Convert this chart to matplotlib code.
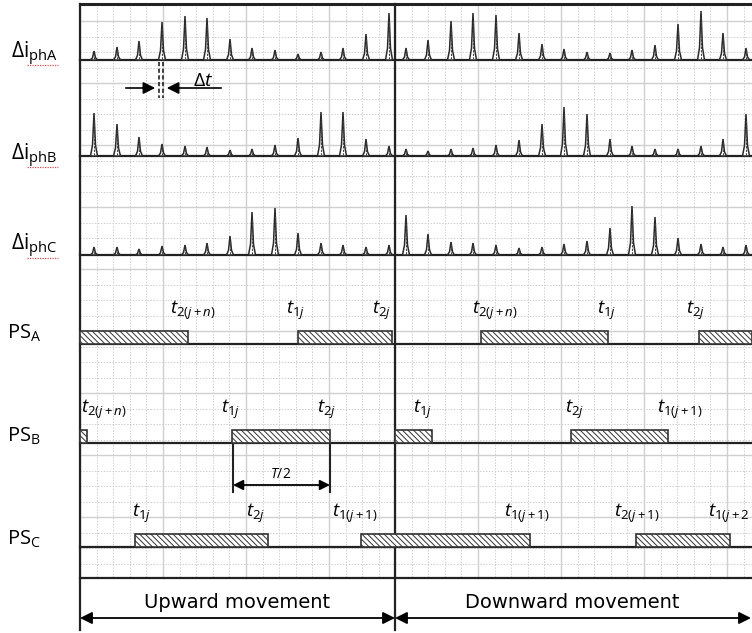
import numpy as np
import matplotlib
matplotlib.use("Agg")
import matplotlib.pyplot as plt
from matplotlib.patches import Polygon, Rectangle, FancyArrowPatch

plt.rcParams['mathtext.fontset'] = 'custom'
plt.rcParams['mathtext.rm'] = 'Open Sans'
plt.rcParams['mathtext.it'] = 'Open Sans:italic'
plt.rcParams['hatch.linewidth'] = 0.7

# everything is measured in pixels of the 752x633 picture (y grows downwards)

# spike instants, upward / downward movement
t_up = [94, 117, 139, 162, 185, 207, 230, 252, 275, 298, 321, 343, 366, 389]
t_down = [406, 428, 451, 473, 496, 519, 542, 564, 587, 610, 632, 655, 678, 701, 723, 746]

# spike amplitudes of the current increments
dA_up = [9, 13, 19, 38, 44, 42, 21, 12, 10, 6, 8, 12, 26, 47]
dA_down = [12, 20, 39, 47, 45, 27, 16, 11, 8, 7, 10, 15, 36, 49, 27, 12]
dB_up = [43, 32, 19, 12, 10, 9, 6, 7, 11, 18, 44, 44, 17, 10]
dB_down = [7, 5, 7, 8, 11, 16, 32, 49, 42, 17, 10, 7, 7, 10, 17, 42]
dC_up = [8, 8, 6, 9, 10, 12, 19, 43, 47, 22, 12, 10, 8, 10]
dC_down = [40, 21, 13, 12, 10, 7, 8, 11, 14, 27, 49, 38, 17, 11, 8, 10]

# position sensor pulses (start, end)
psA = [(80, 188), (298, 392), (481, 608), (699, 752)]
psB = [(80, 87), (232, 330), (395, 432), (571, 668)]
psC = [(135, 268), (361, 530), (636, 730)]

# instant labels (text, x)
labA = [('t_{2(j+n)}', 193), ('t_{1j}', 296), ('t_{2j}', 382),
        ('t_{2(j+n)}', 495), ('t_{1j}', 607), ('t_{2j}', 696)]
labB = [('t_{2(j+n)}', 104), ('t_{1j}', 231), ('t_{2j}', 327),
        ('t_{1j}', 423), ('t_{2j}', 575), ('t_{1(j+1)}', 680)]
labC = [('t_{1j}', 142), ('t_{2j}', 256), ('t_{1(j+1)}', 355),
        ('t_{1(j+1)}', 527), ('t_{2(j+1)}', 637)]

X0, XM, X1 = 80, 395, 752
Y0, YB = 4, 578

fig = plt.figure(figsize=(7.52, 6.33), dpi=100)
ax = fig.add_axes([0, 0, 1, 1])
ax.set_xlim(0, 752)
ax.set_ylim(633, 0)
ax.axis('off')

# grid
gc = '#cfcfcf'
for start, stop in [(X0, XM), (XM, X1)]:
    xs = np.arange(start, stop, 83.0 / 5)
    for i, x in enumerate(xs):
        if i % 5 == 0:
            ax.plot([x, x], [Y0, YB], color=gc, lw=1.0, zorder=0)
        else:
            ax.plot([x, x], [Y0, YB], color=gc, lw=0.7, ls=(0, (1.5, 1.5)), zorder=0)
ys = np.arange(21, YB, 15.5)
for i, y in enumerate(ys):
    if i % 4 == 0:
        ax.plot([X0, X1], [y, y], color=gc, lw=1.0, zorder=0)
    else:
        ax.plot([X0, X1], [y, y], color=gc, lw=0.7, ls=(0, (1.5, 1.5)), zorder=0)

# frame
ax.plot([X0, X1], [Y0, Y0], color='#222222', lw=2.2)
ax.plot([X0, X1], [YB, YB], color='#222222', lw=1.6)
ax.plot([X0, X0], [Y0, 630], color='#222222', lw=1.6)
ax.plot([XM, XM], [Y0, 630], color='#222222', lw=1.6)


def spikes(times, amps, base):
    ax.plot([X0, X1], [base, base], color='#222222', lw=1.6, zorder=3)
    for t, a in zip(times, amps):
        tri = Polygon([(t - 3.5, base), (t - 1.5, base - a * 0.25), (t, base - a),
                       (t + 1.5, base - a * 0.25), (t + 3.5, base)], closed=True,
                      facecolor='white', edgecolor='#2a2a2a', lw=1.1, zorder=4)
        ax.add_patch(tri)
        ax.plot([t, t], [base - 1, base - a * 0.85], color='#444444', lw=0.8,
                ls=(0, (2, 1.2)), zorder=5)


spikes(t_up + t_down, dA_up + dA_down, 60)
spikes(t_up + t_down, dB_up + dB_down, 156)
spikes(t_up + t_down, dC_up + dC_down, 255)


def pulses(intervals, base, labels):
    ax.plot([X0, X1], [base, base], color='#222222', lw=1.6, zorder=3)
    for a, b in intervals:
        r = Rectangle((a, base - 13), b - a, 13, facecolor='white', edgecolor='#333333',
                      hatch='\\\\\\\\\\\\', lw=1.2, zorder=4)
        ax.add_patch(r)
    for txt, x in labels:
        ax.text(x, base - 34, r'$\mathit{' + txt + '}$', fontsize=13.5, ha='center',
                va='center', zorder=6)


pulses(psA, 344, labA)
pulses(psB, 443, labB)
pulses(psC, 547, labC)
ax.text(708, 547 - 34, r'$\mathit{t_{1(j+2}}$', fontsize=13.5, ha='left', va='center')

# row labels
rows = [(r'$\mathrm{\Delta i_{phA}}$', 54), (r'$\mathrm{\Delta i_{phB}}$', 156),
        (r'$\mathrm{\Delta i_{phC}}$', 246)]
for s, y in rows:
    ax.text(11, y, s, fontsize=15, ha='left', va='center')
for s, y in [(r'$\mathrm{PS_A}$', 333), (r'$\mathrm{PS_B}$', 436), (r'$\mathrm{PS_C}$', 539)]:
    ax.text(7, y, s, fontsize=14.5, ha='left', va='center')
for y in [65, 167, 258]:
    ax.plot([27, 58], [y, y], color='#d05050', lw=0.9, ls=(0, (1, 1)))

# delta t
for x in [159, 163]:
    ax.plot([x, x], [62, 98], color='#222222', lw=1.2, ls=(0, (2.5, 1.5)))
ax.add_patch(FancyArrowPatch((123, 88), (158, 88), arrowstyle='-|>', mutation_scale=18,
                             color='black', lw=1.2))
ax.add_patch(FancyArrowPatch((224, 88), (164, 88), arrowstyle='-|>', mutation_scale=18,
                             color='black', lw=1.2))
ax.text(203, 80, r'$\mathit{\Delta t}$', fontsize=14, ha='center', va='center')

# T/2
for x in [233, 330]:
    ax.plot([x, x], [443, 492], color='#222222', lw=1.5)
ax.add_patch(FancyArrowPatch((233, 485), (330, 485), arrowstyle='<|-|>', mutation_scale=15,
                             color='black', lw=1.3, shrinkA=0, shrinkB=0))
ax.text(281, 474, r'$\mathit{T/2}$', fontsize=10, ha='center', va='center')

# movement arrows
ax.add_patch(FancyArrowPatch((X0, 618), (XM, 618), arrowstyle='<|-|>', mutation_scale=18,
                             color='black', lw=1.3, shrinkA=0, shrinkB=0))
ax.add_patch(FancyArrowPatch((XM, 618), (X1 - 1, 618), arrowstyle='<|-|>', mutation_scale=18,
                             color='black', lw=1.3, shrinkA=0, shrinkB=0))
ax.text(237, 602, 'Upward movement', fontsize=14, ha='center', va='center')
ax.text(572, 602, 'Downward movement', fontsize=14, ha='center', va='center')

fig.savefig('out.png', dpi=100)
